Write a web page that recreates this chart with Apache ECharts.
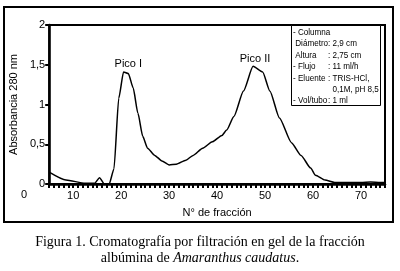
<!DOCTYPE html>
<html>
<head>
<meta charset="utf-8">
<script src="https://cdn.jsdelivr.net/npm/echarts@6/dist/echarts.min.js"></script>
<style>
  html, body { margin: 0; padding: 0; background: #fff; }
  #chart { width: 400px; height: 271px; }
</style>
</head>
<body>
<div id="chart"></div>
<script>
// datos
const fracciones = [5, 8.5, 12.5, 14.5, 15.5, 16.5, 17.5, 18.5, 19.5, 20.5, 21.5, 22.5, 23.5, 24.5, 25.5, 27, 28.5, 30, 31.5, 33.5, 35, 37, 39, 41, 42, 43.5, 45.5, 47.5, 49.5, 51, 53, 55.5, 57.5, 59.5, 60.5, 62.5, 64.5, 67, 70, 72, 74, 75];
const absorbancia = [0.15, 0.05, 0.01, 0.01, 0.08, 0.0, 0.0, 0.19, 1.08, 1.41, 1.39, 1.21, 0.89, 0.6, 0.45, 0.36, 0.29, 0.24, 0.25, 0.3, 0.36, 0.45, 0.53, 0.61, 0.68, 0.85, 1.17, 1.48, 1.41, 1.17, 0.83, 0.52, 0.36, 0.2, 0.11, 0.05, 0.02, 0.02, 0.02, 0.025, 0.02, 0.02];
const picosNombre = ["Pico I", "Pico II"];
const picosPos = [[21.5, 1.51], [47.9, 1.57]];
const condiciones = [
  ["- Columna", ""],
  [" Diámetro: 2,9 cm", ""],
  [" Altura", ": 2,75 cm"],
  ["- Flujo", ": 11 ml/h"],
  ["- Eluente", ": TRIS-HCl,"],
  ["", "  0,1M, pH 8,5"],
  ["- Vol/tubo", ": 1 ml"]
];

const chart = echarts.init(document.getElementById("chart"));

let fuenteCuadro = "9px 'Liberation Sans'";

// cuadro de condiciones
let cuadro = [{
  type: "rect",
  shape: { x: 291.5, y: 25.5, width: 89, height: 80 },
  style: { fill: "#fff", stroke: "#000", lineWidth: 1 },
  z: 10
}];
condiciones.forEach((c, i) => {
  let y = 32.5 + i * 11.4;
  cuadro.push({ type: "text", x: 293, y: y, scaleX: 0.9, z: 11,
    style: { text: c[0], fill: "#000", font: fuenteCuadro, verticalAlign: "middle" } });
  if (c[1]) {
    cuadro.push({ type: "text", x: 328, y: y, scaleX: 0.9, z: 11,
      style: { text: c[1], fill: "#000", font: fuenteCuadro, verticalAlign: "middle" } });
  }
});

let option = {
  backgroundColor: "#fff",
  animation: false,
  title: {
    text: "Figura 1. Cromatografía por filtración en gel de la fracción\nalbúmina de {i|Amaranthus caudatus}.",
    left: "center",
    top: 229,
    textStyle: {
      fontFamily: "Liberation Serif", fontSize: 14, fontWeight: "normal", color: "#000", lineHeight: 16,
      rich: { i: { fontFamily: "Liberation Serif", fontSize: 14, fontStyle: "italic", color: "#000" } }
    }
  },
  grid: {
    left: 48, top: 25, right: 15, bottom: 87,
    show: true, borderColor: "#000", borderWidth: 2
  },
  xAxis: {
    type: "value",
    position: "bottom",
    min: 5, max: 75, interval: 5,
    name: "N° de fracción",
    nameLocation: "middle",
    nameGap: 23,
    nameTextStyle: { color: "#000", fontSize: 11, fontFamily: "Liberation Sans" },
    axisLine: { show: true, onZero: false, lineStyle: { color: "#000", width: 2.5 } },
    axisTick: { show: true, inside: false, length: 4, lineStyle: { color: "#000", width: 2 } },
    minorTick: { show: true, splitNumber: 5, length: 4, lineStyle: { color: "#000", width: 2 } },
    axisLabel: {
      color: "#000", fontSize: 11, fontFamily: "Liberation Sans", margin: 6,
      formatter: v => (v % 10 === 0 ? String(v) : "")
    },
    splitLine: { show: false }
  },
  yAxis: {
    type: "value",
    min: 0, max: 2, interval: 0.5,
    name: "Absorbancia 280 nm",
    nameLocation: "middle",
    nameGap: 30,
    nameTextStyle: { color: "#000", fontSize: 11, fontFamily: "Liberation Sans" },
    axisLine: { show: true, lineStyle: { color: "#000", width: 2.5 } },
    axisTick: { show: true, inside: false, length: 4, lineStyle: { color: "#000", width: 2 } },
    axisLabel: {
      color: "#000", fontSize: 11, fontFamily: "Liberation Sans", margin: 4,
      formatter: v => String(v).replace(".", ",")
    },
    splitLine: { show: false }
  },
  graphic: [
    { type: "rect", shape: { x: 4, y: 7, width: 389, height: 215 },
      style: { fill: "none", stroke: "#000", lineWidth: 2 }, z: 100 },
    { type: "text", x: 24, y: 195,
      style: { text: "0", fill: "#000", font: "11px 'Liberation Sans'", align: "center", verticalAlign: "middle" } }
  ].concat(cuadro),
  series: [{
    type: "line",
    data: fracciones.map((x, i) => [x, absorbancia[i]]),
    smooth: 0.2,
    smoothMonotone: "x",
    showSymbol: false,
    symbol: "none",
    lineStyle: { color: "#000", width: 1.5 },
    markPoint: {
      symbol: "circle",
      symbolSize: 0,
      silent: true,
      label: { show: true, position: "inside", color: "#000", fontSize: 11, fontFamily: "Liberation Sans" },
      data: picosNombre.map((n, i) => ({ coord: picosPos[i], label: { formatter: n } }))
    }
  }]
};
chart.setOption(option);
</script>
</body>
</html>
